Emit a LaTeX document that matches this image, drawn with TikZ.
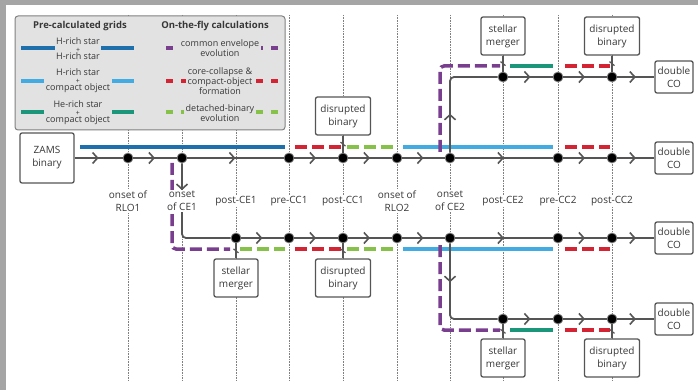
\documentclass[tikz,border=0pt]{standalone}
\usepackage{fontspec}
\setmainfont{Open Sans}
\usetikzlibrary{arrows.meta,
                 decorations.markings}

\definecolor{framegray}{RGB}{165,165,165}
\definecolor{flowgray}{RGB}{85,85,85}
\definecolor{textgray}{RGB}{55,55,55}
\definecolor{legendbg}{RGB}{226,226,226}
\definecolor{hhblue}{RGB}{30,112,172}
\definecolor{hcoblue}{RGB}{66,172,226}
\definecolor{hecogreen}{RGB}{28,150,122}
\definecolor{cepurple}{RGB}{122,62,142}
\definecolor{ccred}{RGB}{212,36,52}
\definecolor{detgreen}{RGB}{134,194,74}

\tikzset{flow/.style = {color=flowgray, line width=1.8pt}}
\tikzset{chev/.style = {decoration={markings, mark=at position #1 with {\arrow{Straight Barb[length=5pt,width=11pt,line width=1.6pt]}}}, postaction={decorate}}, chev/.default=0.5}
\tikzset{slashed/.style = {decoration={markings, mark=at position 0.5 with {\draw[line width=1.2pt] (-2pt,-2.5pt) -- (2pt,2.5pt);}}, postaction={decorate}}}
\tikzset{stagept/.style = {circle, fill=black, draw=flowgray!70, line width=0.8pt, inner sep=0pt, minimum size=10pt}}
\tikzset{outbox/.style = {draw=flowgray, line width=1.3pt, rounded corners=2pt, fill=white, align=center, text=textgray, inner sep=0pt, font=\fontsize{10}{13}\selectfont}}
\tikzset{startbox/.style = {outbox, minimum width=54pt, minimum height=50pt}}
\tikzset{merger/.style = {outbox, minimum width=44pt, minimum height=38pt}}
\tikzset{disrupt/.style = {outbox, minimum width=55pt, minimum height=38pt}}
\tikzset{dco/.style = {outbox, minimum width=38pt, minimum height=32pt}}
\tikzset{stage/.style = {fill=white, inner sep=1.5pt, align=center, text=textgray, font=\fontsize{10}{13}\selectfont}}
\tikzset{guide/.style = {draw=gray, line width=0.5pt, dash pattern=on 0.8pt off 0.8pt}}
\tikzset{legendbox/.style = {fill=legendbg, draw=gray, line width=1pt, rounded corners=3pt}}
\tikzset{legtitle/.style = {text=textgray, font=\bfseries\fontsize{9.5}{11}\selectfont}}
\tikzset{legtext/.style = {fill=legendbg, inner sep=1.5pt, align=center, text=textgray, font=\fontsize{9}{10}\selectfont}}
\tikzset{bar/.style = {line width=3.5pt}}
\tikzset{dbar/.style = {line width=3.5pt, dash pattern=on 12pt off 5pt}}

\begin{document}
\begin{tikzpicture}[x=1pt, y=-1pt]
	\useasboundingbox (0,0) rectangle (698,390);
	\fill[framegray] (0,0) rectangle (698,5);
	\fill[framegray] (0,0) rectangle (6,390);

	% stage guides
	\foreach \x in {128,182,236,289,343,397,450,503,558,612}
		\draw[guide] (\x,15) -- (\x,380);

	% legend
	\draw[legendbox] (15,16) rectangle (285,130);
	\node[legtitle] (grids) at (80,26) {Pre-calculated grids};
	\node[legtitle] (onfly) at (215,26) {On-the-fly calculations};
	\draw[bar, hhblue] (21,48) -- (134,48);
	\draw[bar, hcoblue] (21,81) -- (134,81);
	\draw[bar, hecogreen] (21,112) -- (134,112);
	\draw[dbar, cepurple, dash pattern=on 7pt off 8pt] (166,48) -- (279,48);
	\draw[dbar, ccred, dash pattern=on 7pt off 8pt] (166,81) -- (279,81);
	\draw[dbar, detgreen, dash pattern=on 7pt off 8pt] (166,112) -- (279,112);
	\node[legtext] (leg-hh) at (78,49) {H-rich star\\[-2.5pt]{\fontsize{7}{6}\selectfont +}\\[-2.5pt]H-rich star};
	\node[legtext] (leg-hco) at (78,81) {H-rich star\\[-2.5pt]{\fontsize{7}{6}\selectfont +}\\[-2.5pt]compact object};
	\node[legtext] (leg-heco) at (78,113) {He-rich star\\[-2.5pt]{\fontsize{7}{6}\selectfont +}\\[-2.5pt]compact object};
	\node[legtext] (leg-ce) at (220,48) {common envelope\\evolution};
	\node[legtext] (leg-cc) at (220,81) {core-collapse \&\\compact-object\\formation};
	\node[legtext] (leg-det) at (220,113) {detached-binary\\evolution};

	% evolution phases
	\draw[bar, hhblue] (80,147) -- (285,147);
	\draw[dbar, ccred] (295,147) -- (341,147);
	\draw[dbar, detgreen] (347,147) -- (393,147);
	\draw[bar, hcoblue] (403,147) -- (553,147);
	\draw[dbar, ccred] (565,147) -- (610,147);

	\draw[dbar, cepurple, rounded corners=4pt] (172,163) -- (172,249) -- (230,249);
	\draw[dbar, detgreen] (240,249) -- (285,249);
	\draw[dbar, ccred] (295,249) -- (341,249);
	\draw[dbar, detgreen] (347,249) -- (393,249);
	\draw[bar, hcoblue] (403,249) -- (553,249);
	\draw[dbar, ccred] (565,249) -- (610,249);

	\draw[dbar, cepurple, rounded corners=4pt] (440,152) -- (440,66) -- (500,66);
	\draw[bar, hecogreen] (510,66) -- (553,66);
	\draw[dbar, ccred] (565,66) -- (610,66);

	\draw[dbar, cepurple, rounded corners=4pt] (440,245) -- (440,330) -- (500,330);
	\draw[bar, hecogreen] (510,330) -- (553,330);
	\draw[dbar, ccred] (565,330) -- (610,330);

	% main track
	\node[startbox] (zams) at (47,158) {ZAMS\\binary};
	\node[stagept] (b1) at (128,158) {};
	\node[stagept] (b2) at (182,158) {};
	\node[stagept] (b4) at (289,158) {};
	\node[stagept] (b5) at (343,158) {};
	\node[stagept] (b6) at (397,158) {};
	\node[stagept] (b7) at (450,158) {};
	\node[stagept] (b9) at (558,158) {};
	\node[stagept] (b10) at (612,158) {};
	\node[dco] (dco-b) at (674,158) {double\\CO};

	% upper track
	\node[stagept] (a8) at (503,77) {};
	\node[stagept] (a9) at (558,77) {};
	\node[stagept] (a10) at (612,77) {};
	\node[dco] (dco-a) at (674,77) {double\\CO};

	% CE1 track
	\node[stagept] (c3) at (236,238) {};
	\node[stagept] (c4) at (289,238) {};
	\node[stagept] (c5) at (343,238) {};
	\node[stagept] (c6) at (397,238) {};
	\node[stagept] (c7) at (450,238) {};
	\node[stagept] (c9) at (558,238) {};
	\node[stagept] (c10) at (612,238) {};
	\node[dco] (dco-c) at (674,238) {double\\CO};

	% lower track
	\node[stagept] (d8) at (503,319) {};
	\node[stagept] (d9) at (558,319) {};
	\node[stagept] (d10) at (612,319) {};
	\node[dco] (dco-d) at (674,319) {double\\CO};

	% outcomes
	\node[merger] (merge-a) at (503,36) {stellar\\merger};
	\node[disrupt] (disr-a) at (612,36) {disrupted\\binary};
	\node[disrupt] (disr-b) at (343,116) {disrupted\\binary};
	\node[merger] (merge-c) at (236,278) {stellar\\merger};
	\node[disrupt] (disr-c) at (343,278) {disrupted\\binary};
	\node[merger] (merge-d) at (503,358) {stellar\\merger};
	\node[disrupt] (disr-d) at (612,358) {disrupted\\binary};

	\draw[flow, chev] (zams) -- (b1);
	\draw[flow, chev] (b1) -- (b2);
	\draw[flow, chev] (b2) -- (b4);
	\draw[flow, chev] (b4) -- (b5);
	\draw[flow, chev] (b5) -- (b6);
	\draw[flow, chev] (b6) -- (b7);
	\draw[flow, chev] (b7) -- (b9);
	\draw[flow, chev] (b9) -- (b10);
	\draw[flow, chev] (b10) -- (dco-b);

	\draw[flow, rounded corners=4pt, chev=0.32] (b7) |- (a8);
	\draw[flow, chev] (a8) -- (a9);
	\draw[flow, chev] (a9) -- (a10);
	\draw[flow, chev] (a10) -- (dco-a);

	\draw[flow, rounded corners=4pt, chev=0.22] (b2) |- (c3);
	\draw[flow, chev] (c3) -- (c4);
	\draw[flow, chev] (c4) -- (c5);
	\draw[flow, chev] (c5) -- (c6);
	\draw[flow, chev] (c6) -- (c7);
	\draw[flow, chev] (c7) -- (c9);
	\draw[flow, chev] (c9) -- (c10);
	\draw[flow, chev] (c10) -- (dco-c);

	\draw[flow, rounded corners=4pt, chev=0.32] (c7) |- (d8);
	\draw[flow, chev] (d8) -- (d9);
	\draw[flow, chev] (d9) -- (d10);
	\draw[flow, chev] (d10) -- (dco-d);

	\draw[flow, line width=1.3pt, slashed] (merge-a) -- (a8);
	\draw[flow, line width=1.3pt, slashed] (disr-a) -- (a10);
	\draw[flow, line width=1.3pt, slashed] (disr-b) -- (b5);
	\draw[flow, line width=1.3pt, slashed] (merge-c) -- (c3);
	\draw[flow, line width=1.3pt, slashed] (disr-c) -- (c5);
	\draw[flow, line width=1.3pt, slashed] (merge-d) -- (d8);
	\draw[flow, line width=1.3pt, slashed] (disr-d) -- (d10);

	% stage labels
	\node[stage] (l-rlo1) at (128,201) {onset of\\RLO1};
	\node[stage] (l-ce1) at (182,201) {onset\\of CE1};
	\node[stage] (l-pce1) at (236,201) {post-CE1};
	\node[stage] (l-precc1) at (289,201) {pre-CC1};
	\node[stage] (l-postcc1) at (343,201) {post-CC1};
	\node[stage] (l-rlo2) at (397,201) {onset of\\RLO2};
	\node[stage] (l-ce2) at (450,201) {onset\\of CE2};
	\node[stage] (l-pce2) at (503,201) {post-CE2};
	\node[stage] (l-precc2) at (558,201) {pre-CC2};
	\node[stage] (l-postcc2) at (612,201) {post-CC2};
\end{tikzpicture}
\end{document}
